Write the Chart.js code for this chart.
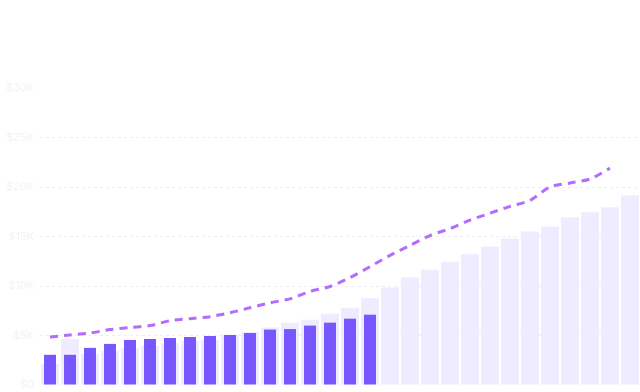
<!DOCTYPE html>
<html>
<head>
<meta charset="utf-8">
<script src="https://cdn.jsdelivr.net/npm/chart.js@4/dist/chart.umd.min.js"></script>
<style>
  html, body { margin: 0; padding: 0; background: #ffffff; }
  #wrap { width: 640px; height: 392px; }
</style>
</head>
<body>
<div id="wrap"><canvas id="salesChart"></canvas></div>
<script>
// periods 1..30
const periods = Array.from({ length: 30 }, (_, i) => "P" + (i + 1));

// light background bars (target / projection)
const targetValues = [0.43, 0.93, 0.63, 0.69, 0.75, 0.79, 0.85, 0.89, 0.91, 1.02,
  1.07, 1.16, 1.26, 1.32, 1.44, 1.56, 1.76, 1.97, 2.17, 2.33,
  2.49, 2.64, 2.80, 2.96, 3.10, 3.20, 3.39, 3.49, 3.59, 3.83];

// solid bars (actual, first 17 periods)
const actualValues = [0.61, 0.61, 0.75, 0.83, 0.91, 0.93, 0.95, 0.97, 0.99, 1.01,
  1.05, 1.12, 1.13, 1.20, 1.26, 1.34, 1.42];

// dashed trend line
const trendValues = [0.97, 1.01, 1.05, 1.12, 1.16, 1.20, 1.30, 1.34, 1.38, 1.46,
  1.56, 1.66, 1.74, 1.89, 1.99, 2.17, 2.39, 2.62, 2.82, 3.02,
  3.16, 3.33, 3.47, 3.61, 3.73, 4.00, 4.08, 4.16, 4.38, null];

const tickLabels = ["$0", "$5K", "$10K", "$15K", "$20K", "$25K", "$30K"];

const ctx = document.getElementById("salesChart").getContext("2d");

new Chart(ctx, {
  type: "bar",
  data: {
    labels: periods,
    datasets: [
      {
        type: "line",
        label: "Trend",
        data: trendValues,
        borderColor: "#b46bff",
        borderWidth: 3,
        borderDash: [8, 6],
        pointRadius: 0,
        fill: false,
        tension: 0.25,
        order: 0
      },
      {
        label: "Actual",
        data: actualValues,
        backgroundColor: "#7857ff",
        categoryPercentage: 1,
        barPercentage: 0.6,
        grouped: false,
        order: 1
      },
      {
        label: "Target",
        data: targetValues,
        backgroundColor: "#efecff",
        categoryPercentage: 1,
        barPercentage: 0.9,
        grouped: false,
        order: 2
      }
    ]
  },
  options: {
    responsive: true,
    maintainAspectRatio: false,
    animation: false,
    layout: { padding: { top: 88, right: 0, bottom: 7, left: 0 } },
    plugins: {
      legend: { display: false },
      tooltip: { enabled: false }
    },
    scales: {
      x: {
        display: false
      },
      y: {
        min: 0,
        max: 6,
        ticks: {
          stepSize: 1,
          color: "#f3f3f5",
          font: { family: "Inter", size: 11 },
          padding: 6,
          callback: (v) => tickLabels[v] ?? ""
        },
        border: { display: false, dash: [3, 3] },
        grid: {
          color: (c) => (c.tick && (c.tick.value === 6 || c.tick.value === 0)) ? "rgba(0,0,0,0)" : "#ececf2",
          drawTicks: false
        },
        afterFit: (scale) => {
          scale.width = 40;
          scale.paddingTop = 0;
          scale.paddingBottom = 0;
        }
      }
    }
  }
});
</script>
</body>
</html>
